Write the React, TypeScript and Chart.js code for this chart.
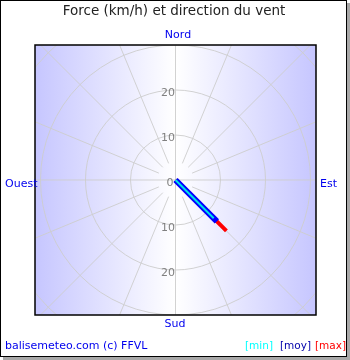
import React, { useEffect, useRef } from "react";
import { Chart, registerables } from "chart.js";

Chart.register(...registerables);

const seriesNames = ["min", "moy", "max"];
const speeds = [12, 13, 16];
const directions = [135, 135, 135];
const seriesColors = ["#00e5e5", "#0000ff", "#ff0000"];
const seriesWidths = [2, 6, 4];
const ringValues = [10, 20, 30, 40];
const tickLabels = [0, 10, 20];
const spokeCount = 16;
const compassLabels = ["Nord", "Est", "Sud", "Ouest"];
const titleText = "Force (km/h) et direction du vent";
const creditText = "balisemeteo.com (c) FFVL";

const FONT = "'DejaVu Sans', Verdana, sans-serif";

const backgroundPlugin = {
  id: "windBackground",
  beforeDatasetsDraw(chart: any) {
    const { ctx, chartArea, scales } = chart;
    const { left, right, top, bottom } = chartArea;
    const xs = scales.x;
    const ys = scales.y;
    const cx = xs.getPixelForValue(0);
    const cy = ys.getPixelForValue(0);
    const ppu = Math.abs(xs.getPixelForValue(1) - cx);
    ctx.save();
    const g = ctx.createLinearGradient(left, 0, right, 0);
    g.addColorStop(0, "rgb(198,198,255)");
    g.addColorStop(0.5, "rgb(255,255,255)");
    g.addColorStop(1, "rgb(198,198,255)");
    ctx.fillStyle = g;
    ctx.fillRect(left, top, right - left, bottom - top);
    ctx.beginPath();
    ctx.rect(left, top, right - left, bottom - top);
    ctx.clip();
    ctx.strokeStyle = "rgba(205,205,205,0.9)";
    ctx.lineWidth = 1;
    ringValues.forEach((v) => {
      ctx.beginPath();
      ctx.arc(cx, cy, v * ppu, 0, Math.PI * 2);
      ctx.stroke();
    });
    const far = 60 * ppu;
    for (let i = 0; i < spokeCount; i++) {
      const a = (i * 2 * Math.PI) / spokeCount;
      const inner = i % 4 === 0 ? 0 : 4 * ppu;
      const sx = Math.sin(a);
      const sy = -Math.cos(a);
      ctx.beginPath();
      ctx.moveTo(cx + sx * inner, cy + sy * inner);
      ctx.lineTo(cx + sx * far, cy + sy * far);
      ctx.stroke();
    }
    ctx.restore();
    ctx.save();
    ctx.fillStyle = "#808080";
    ctx.font = "11px " + FONT;
    ctx.textAlign = "right";
    ctx.textBaseline = "middle";
    tickLabels.forEach((v) => {
      if (v === 0) {
        ctx.fillText("0", cx - 2, cy + 3);
      } else {
        ctx.fillText(String(v), cx - 0.5, ys.getPixelForValue(v) + 3);
        ctx.fillText(String(v), cx - 0.5, ys.getPixelForValue(-v) + 3);
      }
    });
    ctx.restore();
  },
  afterDraw(chart: any) {
    const { ctx, chartArea } = chart;
    ctx.save();
    ctx.strokeStyle = "#000";
    ctx.lineWidth = 1.5;
    ctx.strokeRect(chartArea.left, chartArea.top, chartArea.right - chartArea.left, chartArea.bottom - chartArea.top);
    ctx.restore();
  },
};

function WindChart() {
  const ref = useRef<HTMLCanvasElement | null>(null);
  useEffect(() => {
    if (!ref.current) return;
    const datasets = seriesNames.map((name, i) => {
      const rad = (directions[i] * Math.PI) / 180;
      return {
        label: name,
        data: [
          { x: 0, y: 0 },
          { x: speeds[i] * Math.sin(rad), y: speeds[i] * Math.cos(rad) },
        ],
        showLine: true,
        borderColor: seriesColors[i],
        backgroundColor: seriesColors[i],
        borderWidth: seriesWidths[i],
        borderCapStyle: "butt",
        pointRadius: 0,
        order: i,
      };
    });
    const chart = new Chart(ref.current, {
      type: "scatter",
      data: { datasets: datasets as any },
      options: {
        animation: false,
        responsive: false,
        maintainAspectRatio: false,
        devicePixelRatio: 1,
        layout: { padding: { left: 35, top: 45, right: 34, bottom: 45 } },
        scales: {
          x: { display: false, min: -31.22, max: 31.22 },
          y: { display: false, min: -30, max: 30 },
        },
        plugins: {
          legend: { display: false },
          tooltip: { enabled: false },
          title: { display: false },
        },
      },
      plugins: [backgroundPlugin],
    });
    return () => chart.destroy();
  }, []);
  return <canvas ref={ref} width={350} height={360} style={{ position: "absolute", left: 0, top: 0 }} />;
}

export default function App() {
  const txt = (s: any) => ({ position: "absolute" as const, fontFamily: FONT, whiteSpace: "nowrap" as const, lineHeight: "1", ...s });
  return (
    <div style={{ position: "fixed", left: 0, top: 0, width: 350, height: 360, background: "#fff", overflow: "hidden" }}>
      <div style={{ position: "absolute", left: 0, top: 0, width: 347, height: 357, boxSizing: "border-box", border: "1px solid #000", boxShadow: "3px 3px 0 #a8a8a8" }} />
      <WindChart />
      <div style={txt({ left: 0, width: 348, top: 4, textAlign: "center", fontSize: 13.5, color: "#222" })}>{titleText}</div>
      <div style={txt({ left: 155, width: 46, top: 29, textAlign: "center", fontSize: 11, color: "#0000ee" })}>{compassLabels[0]}</div>
      <div style={txt({ left: 320, top: 178, fontSize: 11, color: "#0000ee" })}>{compassLabels[1]}</div>
      <div style={txt({ left: 155, width: 40, top: 318, textAlign: "center", fontSize: 11, color: "#0000ee" })}>{compassLabels[2]}</div>
      <div style={txt({ left: 5, top: 178, fontSize: 11, color: "#0000ee" })}>{compassLabels[3]}</div>
      <div style={txt({ left: 5, top: 340, fontSize: 11, color: "#0000ee" })}>{creditText}</div>
      <div style={txt({ left: 245, top: 340, fontSize: 10.5, color: "#00ffff" })}>[{seriesNames[0]}]</div>
      <div style={txt({ left: 280, top: 340, fontSize: 10.5, color: "#0000aa" })}>[{seriesNames[1]}]</div>
      <div style={txt({ left: 315, top: 340, fontSize: 10.5, color: "#ff0000" })}>[{seriesNames[2]}]</div>
    </div>
  );
}
